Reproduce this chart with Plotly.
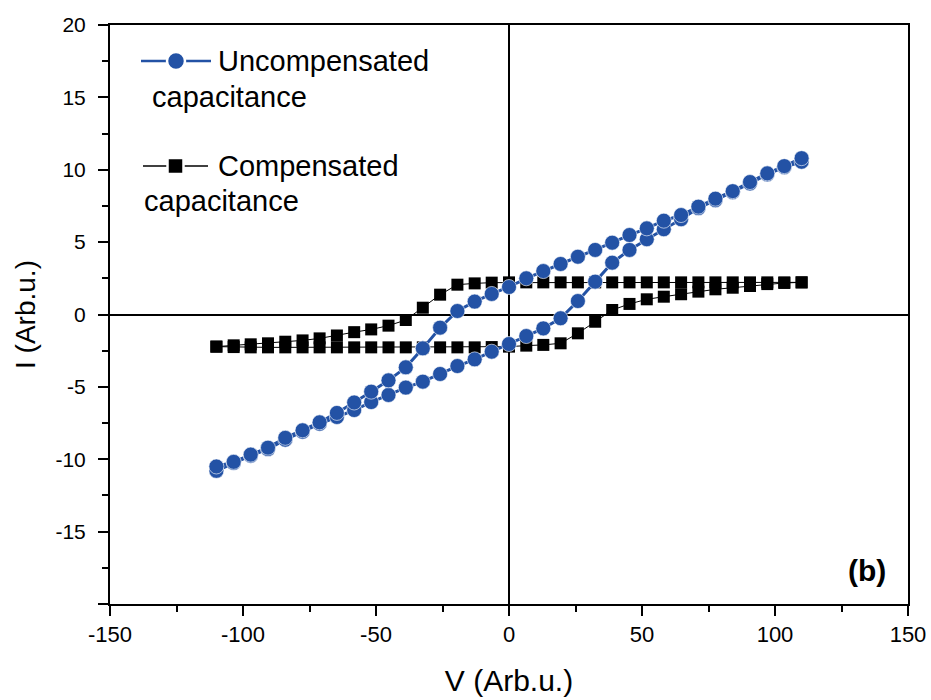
import plotly.graph_objects as go

# ---- data ----
v_values = [-110, -103.5, -97.1, -90.6, -84.1, -77.6, -71.2, -64.7, -58.2, -51.8,
            -45.3, -38.8, -32.4, -25.9, -19.4, -12.9, -6.5, 0, 6.5, 12.9,
            19.4, 25.9, 32.4, 38.8, 45.3, 51.8, 58.2, 64.7, 71.2, 77.6,
            84.1, 90.6, 97.1, 103.5, 110]

# Uncompensated capacitance: forward sweep (lower branch) and reverse sweep (upper branch)
unc_forward = [-10.8, -10.25, -9.75, -9.3, -8.65, -8.1, -7.55, -7.08, -6.6, -6.05,
               -5.56, -5.05, -4.64, -4.11, -3.56, -3.1, -2.57, -2.04, -1.49, -0.96,
               -0.26, 0.93, 2.27, 3.58, 4.46, 5.2, 5.89, 6.58, 7.35, 7.9,
               8.45, 9.05, 9.68, 10.18, 10.55]
unc_reverse = [-10.5, -10.18, -9.68, -9.2, -8.52, -8.0, -7.45, -6.8, -6.08, -5.33,
               -4.55, -3.65, -2.34, -0.91, 0.24, 0.89, 1.42, 1.9, 2.5, 3.0,
               3.49, 3.99, 4.46, 4.96, 5.49, 5.95, 6.48, 6.87, 7.45, 8.0,
               8.52, 9.15, 9.75, 10.25, 10.8]

# Compensated capacitance
comp_forward = [-2.22, -2.25, -2.27, -2.27, -2.27, -2.27, -2.27, -2.27, -2.27, -2.27,
                -2.27, -2.27, -2.27, -2.27, -2.27, -2.27, -2.25, -2.22, -2.15, -2.1,
                -1.99, -1.3, -0.5, 0.31, 0.73, 1.05, 1.23, 1.4, 1.58, 1.74,
                1.85, 1.97, 2.1, 2.18, 2.22]
comp_reverse = [-2.22, -2.13, -2.06, -1.99, -1.88, -1.79, -1.65, -1.45, -1.22, -1.03,
                -0.77, -0.38, 0.47, 1.37, 2.06, 2.15, 2.2, 2.22, 2.22, 2.22,
                2.22, 2.22, 2.22, 2.22, 2.22, 2.22, 2.22, 2.22, 2.22, 2.22,
                2.22, 2.22, 2.22, 2.22, 2.22]

x_ticks = [-150, -100, -50, 0, 50, 100, 150]
x_ticktext = ["-150", "-100", "-50", "0", "50", "100", "150"]
y_ticks = [-20, -15, -10, -5, 0, 5, 10, 15, 20]
y_ticktext = ["", "-15", "-10", "-5", "0", "5", "10", "15", "20"]

BLUE = "rgb(35,82,165)"
FONT = "Liberation Sans, Arial, sans-serif"

loop_x = v_values + v_values[::-1]

fig = go.Figure()
fig.add_trace(go.Scatter(
    x=loop_x, y=comp_forward + comp_reverse[::-1], mode="lines+markers",
    name="Compensated capacitance",
    line=dict(color="black", width=1),
    marker=dict(symbol="square", size=12, color="black"),
    showlegend=False))
fig.add_trace(go.Scatter(
    x=loop_x, y=unc_forward + unc_reverse[::-1], mode="lines+markers",
    name="Uncompensated capacitance",
    line=dict(color=BLUE, width=3),
    marker=dict(symbol="circle", size=15, color=BLUE,
                line=dict(color="rgba(255,255,255,0.6)", width=1)),
    showlegend=False))

# ---- plot-area geometry (pixels) for the hand-made legend ----
L, R, T, B = 110, 908, 25, 604
def px(x):
    return (x - L) / (R - L)
def py(y):
    return (B - y) / (B - T)

shapes = [
    dict(type="line", xref="paper", yref="paper", x0=px(141), x1=px(211), y0=py(61), y1=py(61),
         line=dict(color=BLUE, width=2.5)),
    dict(type="circle", xref="paper", yref="paper", x0=px(167), x1=px(185), y0=py(70), y1=py(52),
         fillcolor=BLUE, line=dict(color="white", width=2.5)),
    dict(type="line", xref="paper", yref="paper", x0=px(143), x1=px(208), y0=py(166), y1=py(166),
         line=dict(color="black", width=1.5)),
    dict(type="rect", xref="paper", yref="paper", x0=px(167.5), x1=px(183.5), y0=py(174), y1=py(158),
         fillcolor="black", line=dict(color="white", width=2.5)),
]

ann = [
    dict(text="Uncompensated", x=px(216), y=py(61)),
    dict(text="capacitance", x=px(150), y=py(97)),
    dict(text="Compensated", x=px(216), y=py(166)),
    dict(text="capacitance", x=px(142), y=py(201)),
]
annotations = [dict(xref="paper", yref="paper", xanchor="left", yanchor="middle", showarrow=False,
                    font=dict(family=FONT, size=29, color="black"), **a) for a in ann]
annotations.append(dict(text="<b>(b)</b>", xref="paper", yref="paper", x=px(867), y=py(570),
                        xanchor="center", yanchor="middle", showarrow=False,
                        font=dict(family=FONT, size=30, color="black")))

fig.update_layout(
    width=931, height=700,
    margin=dict(l=L, r=931 - R, t=T, b=700 - B, autoexpand=False),
    paper_bgcolor="white", plot_bgcolor="white",
    font=dict(family=FONT, color="black"),
    shapes=shapes, annotations=annotations,
    xaxis=dict(range=[-150, 150], tickvals=x_ticks, ticktext=x_ticktext, ticks="outside",
               ticklen=10, tickwidth=1.5, automargin=False,
               tickcolor="black", showgrid=False, showline=True, linecolor="black", linewidth=2,
               mirror=True, zeroline=True, zerolinecolor="black", zerolinewidth=1.5,
               tickfont=dict(size=22, color="black"),
               minor=dict(ticks="outside", ticklen=6, tickwidth=1.5, tickcolor="black",
                          tickvals=[-125, -75, -25, 25, 75, 125], showgrid=False),
               title=dict(text="V (Arb.u.)", font=dict(size=30), standoff=24)),
    yaxis=dict(range=[-20, 20], tickvals=y_ticks, ticktext=y_ticktext, ticks="outside", ticklen=10,
               tickwidth=1.5, tickcolor="black", showgrid=False, showline=True, linecolor="black",
               linewidth=2, mirror=True, zeroline=True, zerolinecolor="black", zerolinewidth=1.5,
               automargin=False, ticklabelstandoff=8,
               tickfont=dict(size=21, color="black"),
               minor=dict(ticks="outside", ticklen=6, tickwidth=1.5, tickcolor="black",
                          tickvals=[-17.5, -12.5, -7.5, -2.5, 2.5, 7.5, 12.5, 17.5], showgrid=False),
               title=dict(text="I (Arb.u.)", font=dict(size=28), standoff=12)),
)

fig.write_html("out.html")
